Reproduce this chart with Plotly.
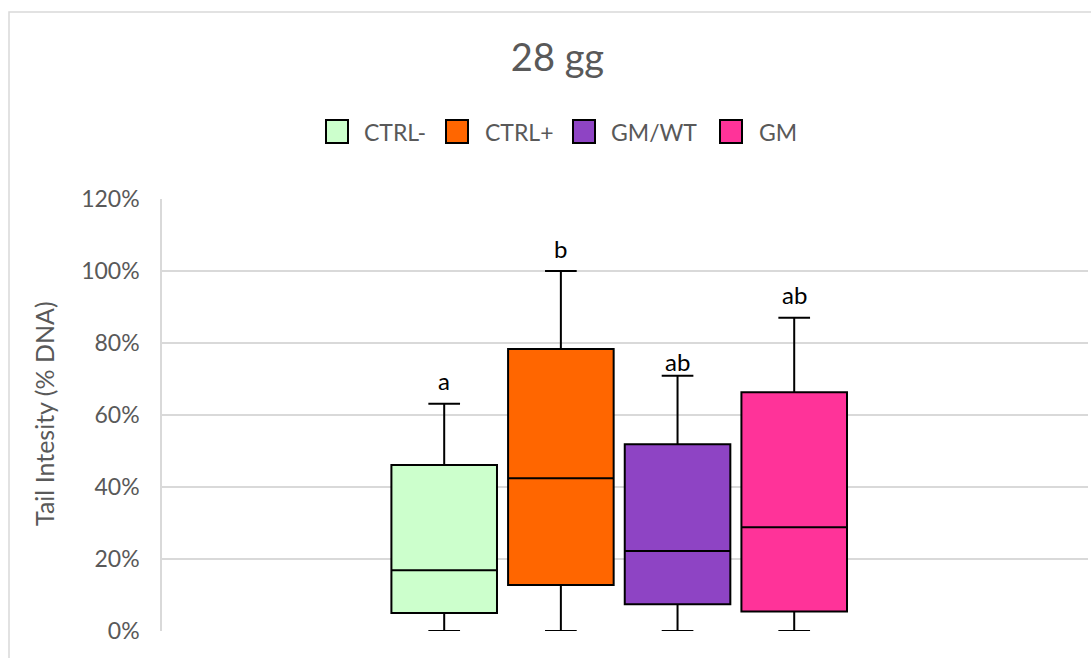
import plotly.graph_objects as go

# Tail intensity (% DNA) at 28 days, summary statistics per group
groups = ["CTRL-", "CTRL+", "GM/WT", "GM"]
lower_fence = [0.00, 0.00, 0.00, 0.00]
q1 = [0.05, 0.128, 0.074, 0.054]
median = [0.169, 0.424, 0.222, 0.288]
q3 = [0.461, 0.783, 0.519, 0.663]
upper_fence = [0.631, 1.00, 0.709, 0.870]
letters = ["a", "b", "ab", "ab"]

colors = ["#CCFFCC", "#FF6600", "#8E44C4", "#FF3399"]
label_shift = [7, 6, -2, 7]  # pixel nudges for the significance letters

W, H = 1091, 658
ML, MR, MT, MB = 162, 3, 199, 27
PW, PH = W - ML - MR, H - MT - MB

GRAY_TXT = "#595959"
GRID = "#D9D9D9"
FONT = "Lato"


def px_x(px):
    return (px - ML) / PW


def px_y(py):
    return (H - MB - py) / PH


fig = go.Figure()

for i, g in enumerate(groups):
    fig.add_trace(go.Box(
        x=[g],
        q1=[q1[i]],
        median=[median[i]],
        q3=[q3[i]],
        lowerfence=[lower_fence[i]],
        upperfence=[upper_fence[i]],
        name=g,
        fillcolor=colors[i],
        line=dict(color="#000000", width=2),
        whiskerwidth=0.3,
        width=0.905,
        boxpoints=False,
        showlegend=False,
        hoverinfo="skip",
    ))

annotations = []
# significance letters above the upper whiskers
for i, g in enumerate(groups):
    annotations.append(dict(
        x=g, y=upper_fence[i], xref="x", yref="y",
        text=letters[i], showarrow=False,
        yanchor="bottom", xanchor="center", yshift=label_shift[i],
        font=dict(family=FONT, size=24, color="#000000"),
    ))

# y-axis title
annotations.append(dict(
    x=px_x(44), y=px_y(414), xref="paper", yref="paper",
    text="Tail Intesity (% DNA)", showarrow=False, textangle=-90,
    xanchor="center", yanchor="middle",
    font=dict(family=FONT, size=25, color=GRAY_TXT),
))

shapes = []
# chart area border
shapes.append(dict(
    type="rect", xref="paper", yref="paper",
    x0=px_x(9), x1=px_x(1100), y0=px_y(700), y1=px_y(12),
    line=dict(color=GRID, width=1.5), fillcolor="rgba(0,0,0,0)", layer="below",
))

# legend: swatches and labels
legend_swatch_left = [326, 446, 573, 720]
legend_text_left = [362, 483, 609, 757]
for i, g in enumerate(groups):
    x0 = legend_swatch_left[i]
    shapes.append(dict(
        type="rect", xref="paper", yref="paper",
        x0=px_x(x0), x1=px_x(x0 + 22), y0=px_y(143), y1=px_y(120),
        line=dict(color="#000000", width=2), fillcolor=colors[i],
    ))
    annotations.append(dict(
        x=px_x(legend_text_left[i]), y=px_y(131.5), xref="paper", yref="paper",
        text=g, showarrow=False, xanchor="left", yanchor="middle",
        font=dict(family=FONT, size=23, color=GRAY_TXT),
    ))

# x range chosen so category centres sit 116.7 px apart
unit = 116.67
x_left = -(444.2 - ML) / unit
x_right = x_left + PW / unit

fig.update_layout(
    width=W, height=H,
    margin=dict(l=ML, r=MR, t=MT, b=MB),
    paper_bgcolor="#FFFFFF",
    plot_bgcolor="#FFFFFF",
    title=dict(
        text="28 gg", x=557.5 / W, xanchor="center", y=1 - 58 / H, yanchor="middle",
        font=dict(family=FONT, size=38, color=GRAY_TXT),
    ),
    xaxis=dict(
        type="category", range=[x_left, x_right],
        showticklabels=False, showgrid=False, zeroline=False, showline=False, ticks="",
    ),
    yaxis=dict(
        range=[0, 1.2], dtick=0.2, tick0=0, tickformat=".0%",
        showgrid=True, gridcolor=GRID, gridwidth=1.5,
        zeroline=False, showline=True, linecolor=GRID, linewidth=1.5,
        ticks="", ticklabelstandoff=16,
        tickfont=dict(family=FONT, size=23, color=GRAY_TXT),
    ),
    annotations=annotations,
    shapes=shapes,
    showlegend=False,
)

fig.write_html("out.html")
